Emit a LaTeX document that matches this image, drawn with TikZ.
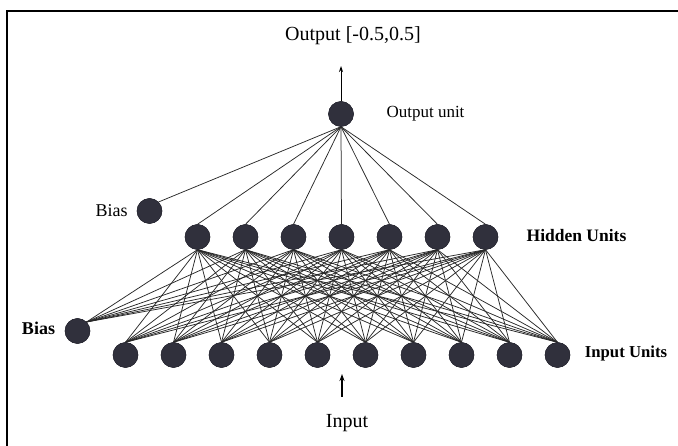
\documentclass[tikz,border=0pt]{standalone}
\usepackage{fontspec}
\setmainfont{Liberation Serif}
\usetikzlibrary{arrows.meta}
\definecolor{unitcol}{RGB}{48,48,60}
\definecolor{linecol}{RGB}{40,40,40}
\tikzset{
  unit/.style={circle,fill=unitcol,draw=unitcol!80!black,line width=0.4pt,minimum size=25pt,inner sep=0pt},
  conn/.style={draw=linecol,line width=0.75pt},
  lbl/.style={inner sep=0pt,text=black},
}
\begin{document}
\begin{tikzpicture}[x=1pt,y=-1pt]
\useasboundingbox (0,0) rectangle (678,446);
% frame
\draw[line width=1.6pt] (7,446) -- (7,11) -- (678,11);
% units
\node[unit] (out) at (341,114) {};
\node[unit] (b1) at (149.5,211) {};
\foreach \i in {0,...,6} {
  \node[unit] (h\i) at ({197.5+48*\i},237) {};
}
\node[unit] (b0) at (77.5,331) {};
\foreach \i in {0,...,9} {
  \node[unit] (x\i) at ({125.5+48*\i},355) {};
}
% connections
\begin{scope}[on background layer/.style={}]
\draw[conn] (out.south) -- (b1.north east);
\foreach \i in {0,...,6} {
  \draw[conn] (out.south) -- (h\i.north);
  \draw[conn] (b0.north east) -- (h\i.south);
  \foreach \j in {0,...,9} {
    \draw[conn] (h\i.south) -- (x\j.north);
  }
}
\end{scope}
% redraw units on top
\node[unit] at (out) {};
\node[unit] at (b1) {};
\foreach \i in {0,...,6} { \node[unit] at (h\i) {}; }
\node[unit] at (b0) {};
\foreach \i in {0,...,9} { \node[unit] at (x\i) {}; }
% arrows
\coordinate (otip) at (341,66);
\draw[line width=0.9pt,-{Stealth[length=6pt,width=4pt]}] (out.north) -- (otip);
\coordinate (ibase) at (342,397);
\coordinate (itip) at (342,374);
\draw[line width=1.4pt,-{Stealth[length=7pt,width=5pt]}] (ibase) -- (itip);
% labels
\node[lbl,font=\fontsize{20}{22}\selectfont] (tout) at (353,36) {Output [-0.5,0.5]};
\node[lbl,font=\fontsize{17}{19}\selectfont] (tou) at (425.5,114) {Output unit};
\node[lbl,font=\fontsize{18}{20}\selectfont] (tb1) at (111.5,211) {Bias};
\node[lbl,font=\fontsize{17.5}{19}\selectfont\bfseries] (th) at (576.5,236) {Hidden Units};
\node[lbl,font=\fontsize{16.7}{19}\selectfont\bfseries] (tx) at (626,353) {Input Units};
\node[lbl,font=\fontsize{18}{20}\selectfont\bfseries] (tb0) at (38.5,328) {Bias};
\node[lbl,font=\fontsize{20}{22}\selectfont] (tin) at (347,423) {Input};
\end{tikzpicture}
\end{document}
